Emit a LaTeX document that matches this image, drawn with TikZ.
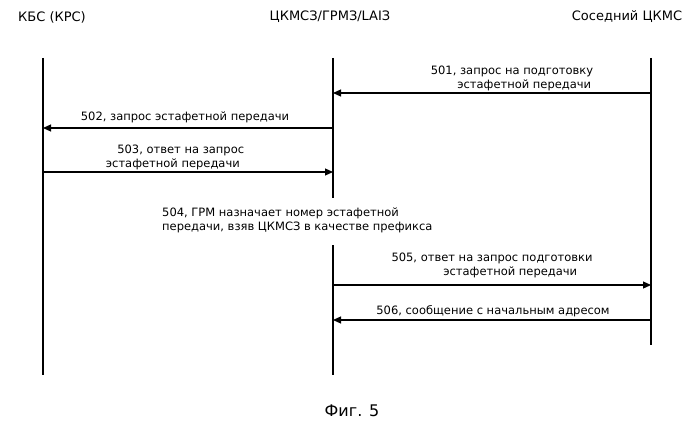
\documentclass[tikz,border=0pt]{standalone}
\usepackage{fontspec}
\setmainfont{DejaVu Sans}
\usetikzlibrary{arrows.meta}
\begin{document}
\begin{tikzpicture}[x=1pt,y=-1pt,
  life/.style={line width=1.2pt},
  msg/.style={line width=1.2pt,-{Triangle[length=8pt,width=7pt]}},
  lbl/.style={font=\fontsize{11.5}{14}\selectfont,align=left,inner sep=0pt},
  hdr/.style={font=\fontsize{13}{15}\selectfont,inner sep=0pt}]
\useasboundingbox (0,0) rectangle (700,433);
\node[hdr] (hA) at (52,17) {КБС (КРС)};
\node[hdr] (hB) at (330,17) {ЦКМСЗ/ГРМЗ/LAIЗ};
\node[hdr] (hC) at (627,17) {Соседний ЦКМС};
\coordinate (a0) at (43,58); \coordinate (a1) at (43,375);
\coordinate (b0) at (333,58); \coordinate (b1) at (333,198);
\coordinate (b2) at (333,245); \coordinate (b3) at (333,375);
\coordinate (c0) at (651,58); \coordinate (c1) at (651,345);
\draw[life] (a0) -- (a1);
\draw[life] (b0) -- (b1);
\draw[life] (b2) -- (b3);
\draw[life] (c0) -- (c1);
\coordinate (m1s) at (651,93); \coordinate (m1e) at (333,93);
\draw[msg] (m1s) -- (m1e);
\node[lbl] (l1) at (512,78) {501, запрос на подготовку\\\hspace*{2.3em}эстафетной передачи};
\coordinate (m2s) at (333,128); \coordinate (m2e) at (43,128);
\draw[msg] (m2s) -- (m2e);
\node[lbl] (l2) at (185,117) {502, запрос эстафетной передачи};
\coordinate (m3s) at (43,172); \coordinate (m3e) at (333,172);
\draw[msg] (m3s) -- (m3e);
\node[lbl] (l3) at (175,157) {\hspace*{1em}503, ответ на запрос\\эстафетной передачи};
\node[lbl,anchor=west] (l4) at (162,220) {504, ГРМ назначает номер эстафетной\\передачи, взяв ЦКМСЗ в качестве префикса};
\coordinate (m5s) at (333,285); \coordinate (m5e) at (651,285);
\draw[msg] (m5s) -- (m5e);
\node[lbl] (l5) at (492,265) {505, ответ на запрос подготовки\\\hspace*{4.5em}эстафетной передачи};
\coordinate (m6s) at (651,320); \coordinate (m6e) at (333,320);
\draw[msg] (m6s) -- (m6e);
\node[lbl] (l6) at (493,311) {506, сообщение с начальным адресом};
\node[font=\fontsize{16}{18}\selectfont,inner sep=0pt] (fig) at (352,411) {Фиг. 5};
\end{tikzpicture}
\end{document}
